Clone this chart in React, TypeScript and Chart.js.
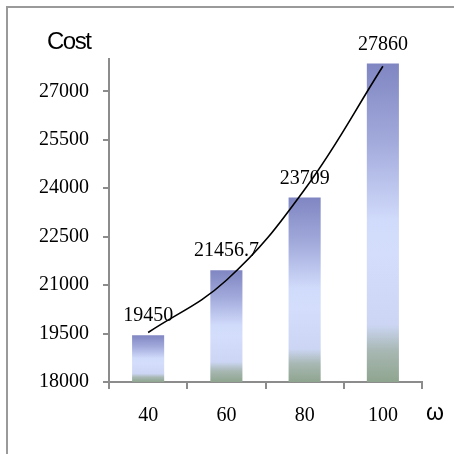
import React, { useEffect, useRef } from "react";
import { Chart, registerables } from "chart.js";

Chart.register(...registerables);

const categories = ["40", "60", "80", "100"];
const costValues = [19450, 21456.7, 23709, 27860];
const trendValues = [19533, 21150, 23960, 27777];
const yTickValues = [18000, 19500, 21000, 22500, 24000, 25500, 27000];
const yMin = 18000;
const yMax = 28000;
const yStep = 1500;
const yAxisTitle = "Cost";
const xAxisTitle = "ω";

const SERIF = "'Liberation Serif', 'Times New Roman', serif";
const SANS = "'Liberation Sans', Arial, sans-serif";
const AXIS_GRAY = "#8c8c8c";

const framePlugin = {
  id: "frame",
  beforeDraw(chart: any) {
    const ctx = chart.ctx;
    ctx.save();
    ctx.strokeStyle = "#9a9a9a";
    ctx.lineWidth = 2;
    ctx.beginPath();
    ctx.moveTo(7, chart.height + 5);
    ctx.lineTo(7, 7);
    ctx.lineTo(chart.width + 5, 7);
    ctx.stroke();
    ctx.restore();
  },
  afterDraw(chart: any) {
    const ctx = chart.ctx;
    const a = chart.chartArea;
    ctx.save();
    ctx.fillStyle = "#000";
    ctx.font = `24px ${SANS}`;
    try { (ctx as any).letterSpacing = "-1.5px"; } catch (e) {}
    ctx.textAlign = "left";
    ctx.textBaseline = "alphabetic";
    ctx.fillText(yAxisTitle, a.left - 62, a.top - 10);
    try { (ctx as any).letterSpacing = "0px"; } catch (e) {}
    ctx.font = `23px ${SANS}`;
    ctx.fillText(xAxisTitle, a.right + 4, a.bottom + 38);
    ctx.restore();
  },
};

const barLabelPlugin = {
  id: "barLabels",
  afterDatasetDraw(chart: any, args: any) {
    if (args.index !== 0) return;
    const meta = chart.getDatasetMeta(0);
    const ctx = chart.ctx;
    ctx.save();
    ctx.fillStyle = "#000";
    ctx.font = `20px ${SERIF}`;
    ctx.textAlign = "center";
    ctx.textBaseline = "alphabetic";
    meta.data.forEach((el: any, i: number) => {
      ctx.fillText(String(costValues[i]), el.x, el.y - 14);
    });
    ctx.restore();
  },
};

export default function App() {
  const canvasRef = useRef<HTMLCanvasElement | null>(null);

  useEffect(() => {
    if (!canvasRef.current) return;
    const chart = new Chart(canvasRef.current, {
      data: {
        labels: categories,
        datasets: [
          {
            type: "bar",
            label: "Cost",
            data: costValues,
            order: 2,
            barPercentage: 0.41,
            categoryPercentage: 1,
            borderWidth: 0,
            backgroundColor: (c: any) => {
              const chart = c.chart;
              const ys = chart.scales && chart.scales.y;
              if (!chart.chartArea || !ys || c.type !== "data") return "#C8D2F6";
              const top = ys.getPixelForValue(c.raw);
              const bottom = ys.getPixelForValue(ys.min);
              if (!isFinite(top) || !isFinite(bottom) || bottom - top < 1) return "#C8D2F6";
              const g = chart.ctx.createLinearGradient(0, top, 0, bottom);
              g.addColorStop(0, "#7F86C2");
              g.addColorStop(0.25, "#A3ABDC");
              g.addColorStop(0.49, "#D0DAFA");
              g.addColorStop(0.6, "#D4DEFC");
              g.addColorStop(0.82, "#CCD6F4");
              g.addColorStop(0.9, "#A8B8B4");
              g.addColorStop(1, "#8FA58F");
              return g;
            },
          },
          {
            type: "line",
            label: "Trend",
            data: trendValues,
            order: 1,
            borderColor: "#000",
            borderWidth: 1.6,
            pointRadius: 0,
            tension: 0.4,
            fill: false,
          },
        ],
      } as any,
      options: {
        responsive: false,
        animation: false,
        layout: { padding: { top: 59, right: 32, left: 0, bottom: 0 } },
        plugins: {
          legend: { display: false },
          tooltip: { enabled: false },
          title: { display: false },
        },
        scales: {
          x: {
            offset: true,
            grid: {
              display: true,
              offset: true,
              drawOnChartArea: false,
              drawTicks: true,
              tickLength: 7,
              color: AXIS_GRAY,
              lineWidth: 2,
            },
            border: { display: true, color: AXIS_GRAY, width: 2 },
            ticks: {
              color: "#000",
              font: { family: SERIF, size: 20 },
              padding: 15,
              maxRotation: 0,
            },
            afterFit: (s: any) => {
              s.height = 72;
            },
          },
          y: {
            min: yMin,
            max: yMax,
            grid: {
              display: true,
              drawOnChartArea: false,
              drawTicks: true,
              tickLength: 6,
              color: AXIS_GRAY,
              lineWidth: 2,
            },
            border: { display: true, color: AXIS_GRAY, width: 2 },
            ticks: {
              stepSize: yStep,
              color: "#000",
              font: { family: SERIF, size: 20 },
              padding: 14,
              callback: (v: any) => String(v),
            },
            afterBuildTicks: (s: any) => {
              s.ticks = yTickValues.map((v) => ({ value: v }));
            },
            afterFit: (s: any) => {
              s.width = 109;
            },
          },
        },
      } as any,
      plugins: [framePlugin, barLabelPlugin],
    });
    return () => chart.destroy();
  }, []);

  return (
    <div style={{ position: "absolute", left: 0, top: 0, width: 454, height: 454, background: "#fff" }}>
      <canvas ref={canvasRef} width={454} height={454} style={{ display: "block" }} />
    </div>
  );
}
